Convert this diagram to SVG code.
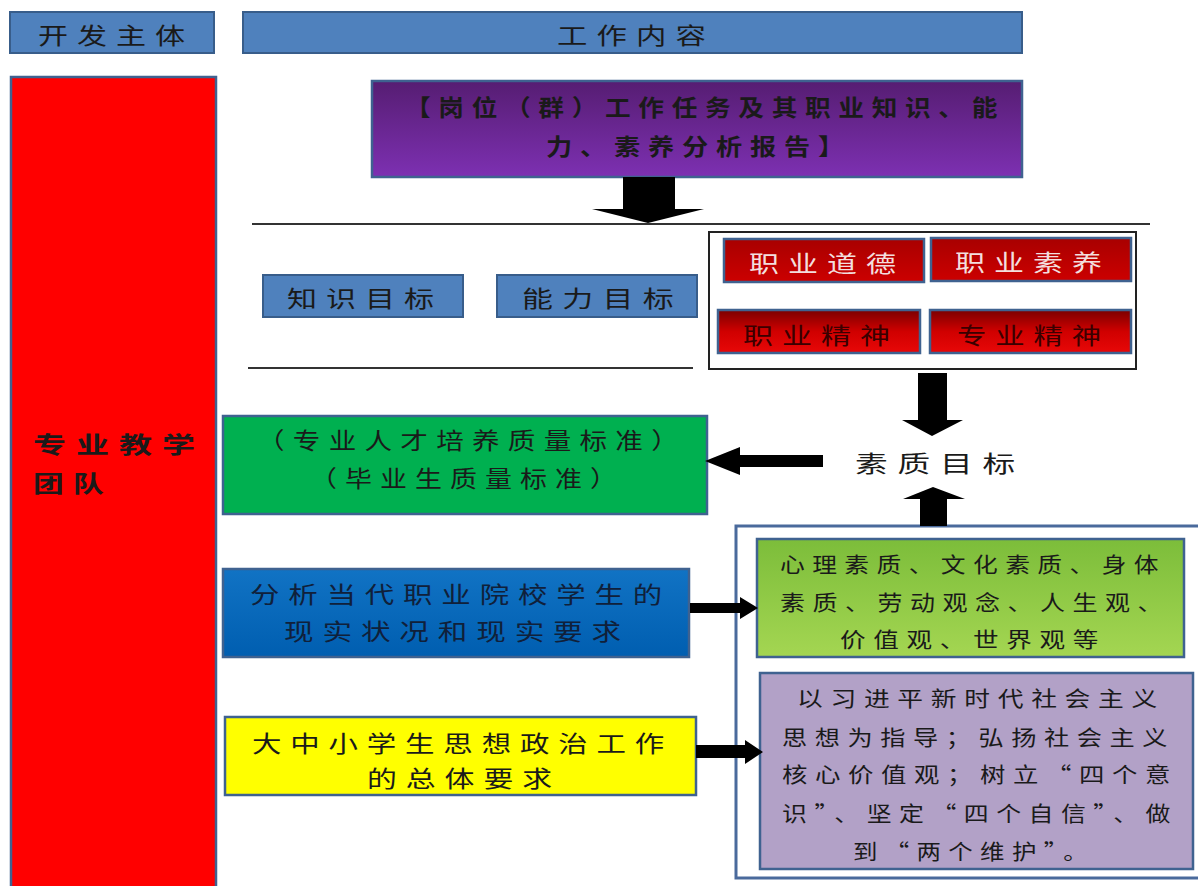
<svg xmlns="http://www.w3.org/2000/svg" width="1198" height="886" viewBox="0 0 1198 886">
<style>
text{font-family:"Noto Sans CJK SC","Noto Sans",sans-serif;font-size:23px;fill:#1a1a1a;dominant-baseline:central;letter-spacing:0.3em;font-weight:normal;}
.hdr{fill:#4f81bd;stroke:#385d8a;stroke-width:2;}
.box{stroke:#3f6290;stroke-width:2.5;}
text.b{font-weight:bold;}
.s21{font-size:21px;}
.arr{fill:#000;}
</style>
<defs>
<linearGradient id="gPurple" x1="0" y1="0" x2="0" y2="1"><stop offset="0" stop-color="#561d72"/><stop offset="1" stop-color="#7d30b2"/></linearGradient>
<linearGradient id="gRedTop" x1="0" y1="0" x2="0" y2="1"><stop offset="0" stop-color="#a80000"/><stop offset="1" stop-color="#cc0000"/></linearGradient>
<linearGradient id="gRedBot" x1="0" y1="0" x2="0" y2="1"><stop offset="0" stop-color="#7a0000"/><stop offset="0.5" stop-color="#d00000"/><stop offset="1" stop-color="#e80808"/></linearGradient>
<linearGradient id="gBlue" x1="0" y1="0" x2="0" y2="1"><stop offset="0" stop-color="#1173c4"/><stop offset="1" stop-color="#005eb0"/></linearGradient>
<linearGradient id="gLGreen" x1="0" y1="0" x2="0" y2="1"><stop offset="0" stop-color="#7cbd3a"/><stop offset="1" stop-color="#a4d652"/></linearGradient>
</defs>

<g id="hdr-dev"><rect class="hdr" x="10" y="12" width="204" height="41"/><text x="38" y="34" textLength="156" lengthAdjust="spacingAndGlyphs">开发主体</text></g>
<g id="hdr-work"><rect class="hdr" x="243" y="12" width="779" height="41"/><text x="557" y="34" textLength="158" lengthAdjust="spacingAndGlyphs">工作内容</text></g>

<g id="team"><rect class="box" x="11" y="77" width="205" height="820" fill="#ff0000"/>
<text class="b" x="33" y="443" textLength="172" lengthAdjust="spacingAndGlyphs">专业教学</text>
<text class="b" x="33" y="482" textLength="80" lengthAdjust="spacingAndGlyphs">团队</text></g>

<g id="report"><rect class="box" x="372" y="81" width="650" height="96" fill="url(#gPurple)"/>
<text class="b" x="405" y="106" textLength="600" lengthAdjust="spacingAndGlyphs" font-size="20">【岗位（群）工作任务及其职业知识、能</text>
<text class="b" x="546" y="145" textLength="306" lengthAdjust="spacingAndGlyphs" font-size="20">力、素养分析报告】</text></g>

<g id="lines"><line x1="252" y1="224" x2="1150" y2="224" stroke="#333" stroke-width="2"/><line x1="248" y1="368" x2="693" y2="368" stroke="#333" stroke-width="2"/></g>

<g id="knowledge"><rect class="hdr" x="263" y="275" width="200" height="42"/><text x="287" y="297" textLength="156" lengthAdjust="spacingAndGlyphs">知识目标</text></g>
<g id="ability"><rect class="hdr" x="497" y="275" width="200" height="42"/><text x="522" y="297" textLength="161" lengthAdjust="spacingAndGlyphs">能力目标</text></g>

<g id="quality-group"><rect x="709" y="232" width="427" height="137" fill="#fff" stroke="#222" stroke-width="2"/></g>
<g id="ethics"><rect class="box" x="724" y="239" width="200" height="43" fill="url(#gRedTop)"/><text x="749" y="262" textLength="156" lengthAdjust="spacingAndGlyphs" style="fill:#f3dede">职业道德</text></g>
<g id="literacy"><rect class="box" x="931" y="238" width="200" height="43" fill="url(#gRedTop)"/><text x="955" y="261" textLength="156" lengthAdjust="spacingAndGlyphs" style="fill:#f3dede">职业素养</text></g>
<g id="spirit"><rect class="box" x="718" y="310" width="202" height="43" fill="url(#gRedBot)"/><text x="743" y="334" textLength="156" lengthAdjust="spacingAndGlyphs" style="fill:#3a0000">职业精神</text></g>
<g id="pro-spirit"><rect class="box" x="930" y="310" width="201" height="43" fill="url(#gRedBot)"/><text x="957" y="334" textLength="153" lengthAdjust="spacingAndGlyphs" style="fill:#3a0000">专业精神</text></g>

<g id="quality-goal"><text x="855" y="462" textLength="170" lengthAdjust="spacingAndGlyphs" font-size="25">素质目标</text></g>

<g id="standards"><rect class="box" x="223" y="416" width="484" height="98" fill="#00b050"/>
<text x="257" y="439" textLength="430" lengthAdjust="spacingAndGlyphs">（专业人才培养质量标准）</text>
<text x="310" y="477" textLength="315" lengthAdjust="spacingAndGlyphs">（毕业生质量标准）</text></g>

<g id="analysis"><rect class="box" x="223" y="569" width="466" height="88" fill="url(#gBlue)"/>
<text x="250" y="593" textLength="421" lengthAdjust="spacingAndGlyphs" style="fill:#10203a">分析当代职业院校学生的</text>
<text x="284" y="630" textLength="346" lengthAdjust="spacingAndGlyphs" style="fill:#10203a">现实状况和现实要求</text></g>

<g id="requirements"><rect class="box" x="225" y="717" width="471" height="78" fill="#ffff00"/>
<text x="252" y="742" textLength="421" lengthAdjust="spacingAndGlyphs">大中小学生思想政治工作</text>
<text x="367" y="777" textLength="194" lengthAdjust="spacingAndGlyphs">的总体要求</text></g>

<g id="outer"><rect x="736" y="526" width="470" height="352" fill="#fff" stroke="#4a6a9c" stroke-width="3"/></g>

<g id="qualities"><rect class="box" x="757" y="539" width="427" height="118" fill="url(#gLGreen)"/>
<text class="s21" x="780" y="563" textLength="386" lengthAdjust="spacingAndGlyphs">心理素质、文化素质、身体</text>
<text class="s21" x="780" y="601" textLength="390" lengthAdjust="spacingAndGlyphs">素质、劳动观念、人生观、</text>
<text class="s21" x="840" y="638" textLength="266" lengthAdjust="spacingAndGlyphs">价值观、世界观等</text></g>

<g id="guidance"><rect class="box" x="760" y="673" width="433" height="196" fill="#b2a1c7"/>
<text class="s21" x="797" y="697" textLength="368" lengthAdjust="spacingAndGlyphs">以习进平新时代社会主义</text>
<text class="s21" x="782" y="736" textLength="393" lengthAdjust="spacingAndGlyphs">思想为指导；弘扬社会主义</text>
<text class="s21" x="782" y="773" textLength="396" lengthAdjust="spacingAndGlyphs">核心价值观；树立“四个意</text>
<text class="s21" x="782" y="812" textLength="396" lengthAdjust="spacingAndGlyphs">识”、坚定“四个自信”、做</text>
<text class="s21" x="853" y="850" textLength="242" lengthAdjust="spacingAndGlyphs">到“两个维护”。</text></g>

<g id="connectors">
<path class="arr" d="M623,177 H675 V209 H704 L648,223 L592,209 H623 Z"/>
<path class="arr" d="M918,373 H947 V420 H963 L932,436 L902,420 H918 Z"/>
<path class="arr" d="M823,455 V467 H740 V475 L705,461 L740,447 V455 Z"/>
<path class="arr" d="M920,526 V499 H903 L933,487 L965,499 H947 V526 Z"/>
<path class="arr" d="M690,603 H740 V597 L758,608 L740,619 V613 H690 Z"/>
<path class="arr" d="M696,745 H745 V740 L763,752 L745,764 V758 H696 Z"/>
</g>
</svg>
